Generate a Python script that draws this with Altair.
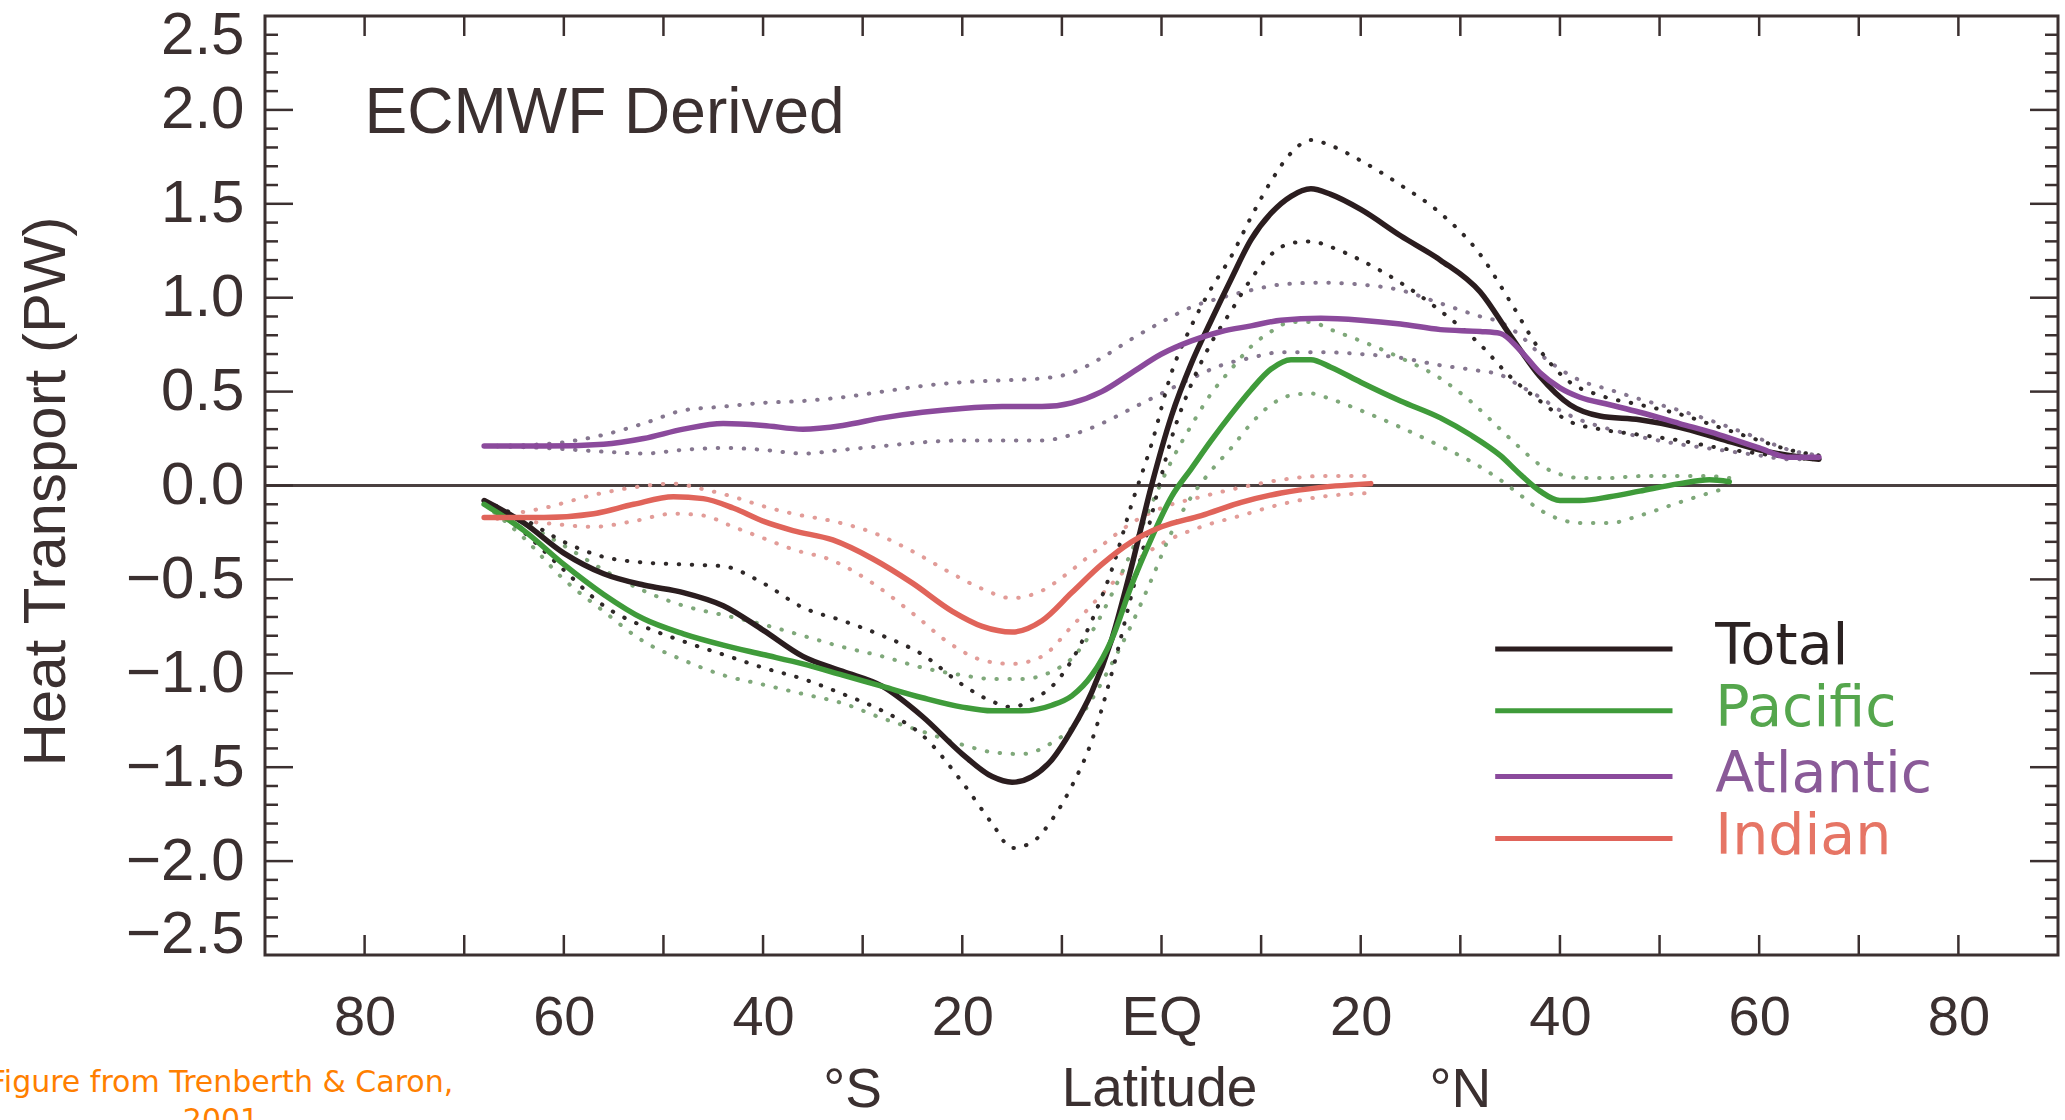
import altair as alt
import pandas as pd
import numpy as np

# ---------------- data (latitude in degrees, south negative; transport in PW) -------------
total_lat = [-68, -64, -60, -56, -52, -48, -44, -40, -36, -32, -28, -24, -20, -17, -15, -13, -11, -9, -7, -5,
             -3, -1, 1, 3, 5, 7, 9, 11, 13, 15, 17, 20, 24, 28, 32, 35, 38, 41, 44, 48, 52, 56, 60, 63, 66]
total_val = [-0.08, -0.20, -0.36, -0.47, -0.53, -0.57, -0.64, -0.77, -0.91, -0.99, -1.07, -1.23, -1.43, -1.55,
             -1.58, -1.55, -1.46, -1.30, -1.10, -0.82, -0.43, 0.00, 0.37, 0.65, 0.88, 1.10, 1.31, 1.45, 1.54,
             1.58, 1.55, 1.47, 1.33, 1.20, 1.03, 0.80, 0.58, 0.43, 0.37, 0.35, 0.31, 0.25, 0.19, 0.16, 0.14]
total_hi = [-0.08, -0.18, -0.30, -0.38, -0.41, -0.42, -0.43, -0.52, -0.65, -0.72, -0.80, -0.90, -1.06, -1.15,
            -1.18, -1.14, -1.07, -0.93, -0.72, -0.45, -0.10, 0.22, 0.60, 0.85, 1.05, 1.22, 1.43, 1.62, 1.77,
            1.84, 1.81, 1.73, 1.60, 1.45, 1.23, 0.98, 0.72, 0.55, 0.48, 0.43, 0.38, 0.31, 0.24, 0.19, 0.16]
total_lo = [-0.09, -0.25, -0.45, -0.64, -0.75, -0.83, -0.90, -0.97, -1.03, -1.11, -1.20, -1.33, -1.58, -1.80,
            -1.93, -1.90, -1.78, -1.60, -1.36, -1.00, -0.58, -0.16, 0.25, 0.54, 0.76, 0.93, 1.10, 1.23, 1.29,
            1.30, 1.27, 1.20, 1.08, 0.93, 0.75, 0.58, 0.45, 0.34, 0.30, 0.27, 0.24, 0.20, 0.17, 0.15, 0.14]

atl_lat = [-68, -62, -56, -52, -48, -44, -40, -36, -32, -28, -24, -20, -16, -12, -9, -6, -3, 0, 3, 6, 9, 12,
           16, 20, 24, 28, 32, 34, 36, 38, 40, 42, 45, 48, 52, 56, 60, 63, 66]
atl_val = [0.21, 0.21, 0.22, 0.25, 0.30, 0.33, 0.32, 0.30, 0.32, 0.36, 0.39, 0.41, 0.42, 0.42, 0.44, 0.50,
           0.60, 0.70, 0.77, 0.82, 0.85, 0.88, 0.89, 0.88, 0.86, 0.83, 0.82, 0.81, 0.72, 0.60, 0.52, 0.47,
           0.43, 0.39, 0.33, 0.27, 0.20, 0.15, 0.15]
atl_hi = [0.21, 0.22, 0.27, 0.33, 0.40, 0.42, 0.44, 0.45, 0.47, 0.50, 0.53, 0.55, 0.56, 0.57, 0.60, 0.68,
          0.78, 0.87, 0.95, 1.00, 1.04, 1.07, 1.08, 1.07, 1.04, 0.97, 0.90, 0.87, 0.80, 0.70, 0.62, 0.56,
          0.51, 0.46, 0.40, 0.33, 0.25, 0.19, 0.16]
atl_lo = [0.21, 0.20, 0.18, 0.17, 0.19, 0.20, 0.19, 0.17, 0.19, 0.21, 0.23, 0.24, 0.24, 0.24, 0.27, 0.33,
          0.41, 0.49, 0.57, 0.64, 0.68, 0.71, 0.71, 0.70, 0.68, 0.64, 0.61, 0.59, 0.53, 0.47, 0.40, 0.35,
          0.30, 0.26, 0.22, 0.19, 0.16, 0.14, 0.14]

pac_lat = [-68, -64, -60, -56, -52, -48, -44, -40, -36, -32, -28, -24, -20, -17, -14, -11, -9, -7, -5, -3,
           -1, 1, 3, 5, 7, 9, 11, 13, 15, 17, 20, 24, 28, 31, 34, 36, 38, 40, 42, 45, 48, 52, 55, 57]
pac_val = [-0.10, -0.24, -0.42, -0.58, -0.71, -0.79, -0.85, -0.90, -0.95, -1.01, -1.07, -1.13, -1.18, -1.20,
           -1.20, -1.17, -1.12, -1.01, -0.82, -0.53, -0.28, -0.06, 0.09, 0.24, 0.38, 0.51, 0.62, 0.67, 0.67,
           0.63, 0.55, 0.45, 0.36, 0.27, 0.16, 0.06, -0.03, -0.08, -0.08, -0.06, -0.03, 0.01, 0.03, 0.02]
pac_hi = [-0.10, -0.20, -0.32, -0.45, -0.56, -0.64, -0.69, -0.74, -0.80, -0.86, -0.91, -0.97, -1.01, -1.03,
          -1.03, -0.99, -0.92, -0.78, -0.58, -0.35, -0.10, 0.13, 0.32, 0.49, 0.62, 0.74, 0.82, 0.87, 0.87,
          0.83, 0.77, 0.68, 0.57, 0.45, 0.30, 0.20, 0.11, 0.06, 0.04, 0.04, 0.05, 0.05, 0.05, 0.04]
pac_lo = [-0.10, -0.28, -0.50, -0.67, -0.83, -0.93, -1.01, -1.06, -1.11, -1.16, -1.24, -1.31, -1.38, -1.42,
          -1.43, -1.37, -1.29, -1.14, -0.95, -0.74, -0.50, -0.25, -0.06, 0.08, 0.20, 0.33, 0.43, 0.48, 0.49,
          0.46, 0.40, 0.31, 0.21, 0.13, 0.03, -0.05, -0.13, -0.18, -0.20, -0.20, -0.16, -0.09, -0.04, -0.01]

ind_lat = [-68, -62, -57, -53, -49, -46, -43, -40, -37, -33, -29, -25, -21, -18, -15, -12, -9, -6, -3, 0,
           4, 8, 12, 16, 21]
ind_val = [-0.17, -0.17, -0.15, -0.10, -0.06, -0.07, -0.12, -0.19, -0.24, -0.29, -0.39, -0.52, -0.67, -0.75,
           -0.78, -0.72, -0.57, -0.42, -0.30, -0.22, -0.16, -0.09, -0.04, -0.01, 0.01]
ind_hi = [-0.17, -0.12, -0.05, -0.01, 0.01, -0.02, -0.06, -0.11, -0.15, -0.19, -0.25, -0.35, -0.47, -0.55,
          -0.60, -0.56, -0.45, -0.32, -0.20, -0.12, -0.06, -0.01, 0.03, 0.05, 0.05]
ind_lo = [-0.17, -0.20, -0.22, -0.19, -0.15, -0.16, -0.22, -0.28, -0.34, -0.40, -0.52, -0.68, -0.85, -0.93,
          -0.95, -0.91, -0.75, -0.58, -0.42, -0.31, -0.22, -0.16, -0.10, -0.06, -0.04]

series_names = ["Total", "Pacific", "Atlantic", "Indian"]
x_label_values = [-80, -60, -40, -20, 0, 20, 40, 60, 80]
y_label_values = [-2.5, -2.0, -1.5, -1.0, -0.5, 0.0, 0.5, 1.0, 1.5, 2.0, 2.5]
legend_y = [-0.87, -1.20, -1.55, -1.88]
title_text = "ECMWF Derived"
caption_text = "Figure from Trenberth & Caron,\n2001"

# ---------------- styling ----------------
PW, PH = 1793, 939
INK = "#3b3030"
FONT = "Liberation Sans"
line_colors = {"Total": "#2b1d1f", "Pacific": "#3f9b3a", "Atlantic": "#8b4a9c", "Indian": "#e0645a"}
dot_colors = {"Total": "#2e2828", "Pacific": "#7fa87a", "Atlantic": "#85768f", "Indian": "#e29c98"}
text_colors = {"Total": "#2b2222", "Pacific": "#55a64d", "Atlantic": "#8a5a98", "Indian": "#e67565"}

series = {
    "Total": (total_lat, total_val, total_hi, total_lo),
    "Pacific": (pac_lat, pac_val, pac_hi, pac_lo),
    "Atlantic": (atl_lat, atl_val, atl_hi, atl_lo),
    "Indian": (ind_lat, ind_val, ind_hi, ind_lo),
}

xscale = alt.Scale(domain=[-90, 90], nice=False, zero=False)
yscale = alt.Scale(domain=[-2.5, 2.5], nice=False, zero=False)

xaxis = alt.Axis(values=x_label_values, labelExpr="datum.value == 0 ? 'EQ' : '' + abs(datum.value)",
                 ticks=False, tickSize=0, domain=False, grid=False, labelFontSize=56, labelFont=FONT,
                 labelColor=INK, labelPadding=35, title="Latitude", titleFontSize=55, titleFont=FONT,
                 titleFontWeight="normal", titleColor=INK, titleX=894, titleY=133, titleAlign="center",
                 titleBaseline="middle", labelFlush=False)
yaxis = alt.Axis(values=y_label_values, format=".1f", ticks=False, tickSize=0, domain=False, grid=False,
                 labelFontSize=60, labelFont=FONT, labelColor=INK, labelPadding=21, labelFlush=True,
                 labelFlushOffset=10, title="Heat Transport (PW)", titleFontSize=60, titleFont=FONT,
                 titleFontWeight="normal", titleColor=INK, titleX=-219, titleY=475, titleAngle=270,
                 titleAlign="center", titleBaseline="middle")


def X(field):
    return alt.X(field, type="quantitative", scale=xscale, axis=xaxis)


def Y(field):
    return alt.Y(field, type="quantitative", scale=yscale, axis=yaxis)


layers = []

# zero line
layers.append(alt.Chart(pd.DataFrame({"v": [0.0]})).mark_rule(color="#4a4040", strokeWidth=3)
              .encode(y=Y("v")))

# tick marks (inward) -- positions only
xt = pd.DataFrame({"lat": list(range(-80, 81, 10))})
layers.append(alt.Chart(xt).mark_rule(color=INK, strokeWidth=2.5)
              .encode(x=X("lat"), y=alt.value(PH), y2=alt.value(PH - 20)))
layers.append(alt.Chart(xt).mark_rule(color=INK, strokeWidth=2.5)
              .encode(x=X("lat"), y=alt.value(0), y2=alt.value(20)))
allt = np.round(np.arange(-2.4, 2.45, 0.1), 1)
minor = pd.DataFrame({"v": [t for t in allt if abs(round(t * 2) - t * 2) > 1e-6]})
major = pd.DataFrame({"v": [t for t in allt if abs(round(t * 2) - t * 2) <= 1e-6]})
for df, ln in ((minor, 13), (major, 28)):
    layers.append(alt.Chart(df).mark_rule(color=INK, strokeWidth=2.5)
                  .encode(y=Y("v"), x=alt.value(0), x2=alt.value(ln)))
    layers.append(alt.Chart(df).mark_rule(color=INK, strokeWidth=2.5)
                  .encode(y=Y("v"), x=alt.value(PW), x2=alt.value(PW - ln)))

# dotted uncertainty bounds
for name in ["Atlantic", "Indian", "Pacific", "Total"]:
    lat, val, hi, lo = series[name]
    for b in (hi, lo):
        df = pd.DataFrame({"lat": lat, "v": b})
        layers.append(alt.Chart(df).mark_line(color=dot_colors[name], strokeWidth=4, strokeCap="round",
                                              strokeDash=[0.5, 12.5], interpolate="monotone")
                      .encode(x=X("lat"), y=Y("v")))

# solid series (drawn in legend order)
for name in ["Total", "Pacific", "Atlantic", "Indian"]:
    lat, val, hi, lo = series[name]
    df = pd.DataFrame({"lat": lat, "v": val})
    layers.append(alt.Chart(df).mark_line(color=line_colors[name], strokeWidth=5.5, strokeCap="round",
                                          strokeJoin="round", interpolate="monotone")
                  .encode(x=X("lat"), y=Y("v")))

# legend (drawn in data space)
leg = pd.DataFrame({"name": series_names, "v": legend_y,
                    "x1": [33.5] * 4, "x2": [51.3] * 4, "xt": [55.6] * 4,
                    "lc": [line_colors[n] for n in series_names],
                    "tc": [text_colors[n] for n in series_names]})
layers.append(alt.Chart(leg).mark_rule(strokeWidth=5)
              .encode(x=X("x1"), x2="x2", y=Y("v"), color=alt.Color("lc:N", scale=None)))
layers.append(alt.Chart(leg).mark_text(align="left", baseline="middle", fontSize=57, font="DejaVu Sans", dy=-2)
              .encode(x=X("xt"), y=Y("v"), text="name:N", color=alt.Color("tc:N", scale=None)))

# title inside plot
layers.append(alt.Chart(pd.DataFrame({"lat": [-80.0], "v": [1.98], "t": [title_text]}))
              .mark_text(align="left", baseline="middle", fontSize=64, font=FONT, color=INK)
              .encode(x=X("lat"), y=Y("v"), text="t:N"))

# hemisphere labels
layers.append(alt.Chart(pd.DataFrame({"lat": [-31.0, 30.0], "t": ["°S", "°N"]}))
              .mark_text(align="center", baseline="middle", fontSize=55, font=FONT, color=INK)
              .encode(x=X("lat"), y=alt.value(1074), text="t:N"))

# orange source caption
layers.append(alt.Chart(pd.DataFrame({"t": [caption_text]}))
              .mark_text(align="center", baseline="middle", fontSize=30, font="DejaVu Sans",
                         color="#ff7f00", lineBreak="\n", lineHeight=38)
              .encode(x=alt.value(-44), y=alt.value(1067), text="t:N"))

chart = alt.layer(*layers).properties(
    width=PW, height=PH,
    autosize=alt.AutoSizeParams(type="none"),
    padding={"left": 265, "top": 16, "right": 7, "bottom": 165},
    background="white",
).configure_view(stroke=INK, strokeWidth=3)

chart.save("out.html", embed_options={"renderer": "svg", "actions": False})
